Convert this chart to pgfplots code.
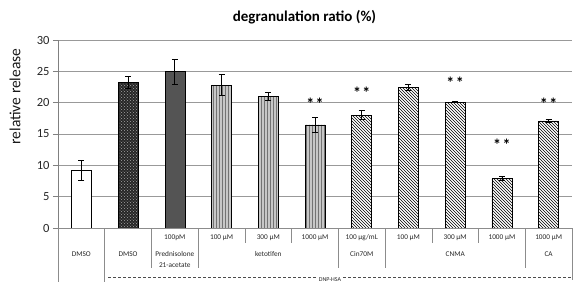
\documentclass[border=0pt]{standalone}
\usepackage{pgfplots}
\pgfplotsset{compat=1.18}
\usepackage{fontspec}
\setmainfont{Carlito}
\usetikzlibrary{patterns}
\pgfplotsset{
  eb/.style={error bars/.cd, y dir=both, y explicit,
    error bar style={black, line width=0.8pt},
    error mark options={rotate=90, mark size=3pt, black, line width=0.8pt}},
  mybar/.style={ybar, bar width=20pt, bar shift=0pt, draw=black, line width=0.6pt},
}
\begin{document}
\begin{tikzpicture}
\begin{axis}[
 at={(0,0)}, anchor=south west,
 scale only axis, width=514pt, height=188pt,
 xmin=-0.5, xmax=10.5, ymin=0, ymax=30,
 xtick=\empty, ytick={0,5,...,30},
 ymajorgrids, grid style={black!40, line width=0.6pt},
 axis x line*=bottom, axis y line*=left, axis line style={black!50,-},
 ytick pos=left, tick align=outside, major tick length=5pt, tick style={black!50, line width=0.6pt},
 yticklabel style={font=\fontsize{12.5}{12.5}\selectfont, text=black!85},
 /pgf/number format/assume math mode=true,
 clip=false,
]
\addplot[mybar, fill=white, eb] coordinates {(0,9.25) +- (0,1.6)};
\addplot[mybar, fill=black!85, postaction={pattern=crosshatch dots, pattern color=black!35}, eb] coordinates {(1,23.2) +- (0,0.95)};
\addplot[mybar, fill=black!67, eb] coordinates {(2,24.95) +- (0,2.0)};
\addplot[mybar, fill=black!22, postaction={pattern=vertical lines, pattern color=black!55}, eb] coordinates {
 (3,22.8) +- (0,1.65)
 (4,20.95) +- (0,0.65)
 (5,16.45) +- (0,1.2)};
\addplot[mybar, fill=white, postaction={pattern=north west lines, pattern color=black}, eb] coordinates {
 (6,18.0) +- (0,0.7)
 (7,22.45) +- (0,0.45)
 (8,20.1) +- (0,0.1)
 (9,7.9) +- (0,0.3)
 (10,17.1) +- (0,0.2)};
\addplot[draw=none, mark=none, nodes near coords={\textbf{*\hspace{1.5pt}*}},
  every node near coord/.append style={anchor=center, font=\fontsize{16}{16}\selectfont}]
  coordinates {(5,19.9) (6,21.5) (8,23.1) (9,13.3) (10,19.9)};
\end{axis}
\begin{scope}[x=1pt,y=1pt]
\draw[black!45, line width=0.6pt]
  (0,0) -- (0,-54) (46.73,0) -- (46.73,-54)
  (93.45,0) -- (93.45,-40) (140.18,0) -- (140.18,-40)
  (280.36,0) -- (280.36,-40) (327.09,0) -- (327.09,-40) (467.27,0) -- (467.27,-40)
  (186.91,0) -- (186.91,-15) (233.64,0) -- (233.64,-15)
  (373.82,0) -- (373.82,-15) (420.55,0) -- (420.55,-15)
  (514,0) -- (514,-52) (0,0) -- (514,0);
\draw[black!70, line width=0.6pt, dash pattern=on 3pt off 2pt] (50,-49.7) -- (514,-49.7);
\begin{scope}[every node/.style={font=\fontsize{7.3}{8}\selectfont, text=black!85, inner sep=0pt}]
\node at (116.82,-10) {100pM};
\node at (163.55,-10) {100 µM};
\node at (210.27,-10) {300 µM};
\node at (257.0,-10) {1000 µM};
\node at (303.73,-10) {100 µg/mL};
\node at (350.45,-10) {100 µM};
\node at (397.18,-10) {300 µM};
\node at (443.91,-10) {1000 µM};
\node at (490.64,-10) {1000 µM};
\node at (23.36,-26) {DMSO};
\node at (70.09,-26) {DMSO};
\node at (116.82,-26) {Prednisolone};
\node at (116.82,-37) {21-acetate};
\node at (210.27,-26) {ketotifen};
\node at (303.73,-26) {Cin70M};
\node at (397.18,-26) {CNMA};
\node at (490.64,-26) {CA};
\node[anchor=south, fill=white, inner xsep=2pt, inner ysep=0.3pt, font=\fontsize{6}{6}\selectfont] at (272,-54) {DNP-HSA};
\end{scope}
\node[font=\bfseries\fontsize{15}{15}\selectfont] at (246.5,211) {degranulation ratio (\%)};
\node[rotate=90, font=\fontsize{15.5}{15.5}\selectfont, text=black!90] at (-43,131.5) {relative release};
\end{scope}
\pgfresetboundingbox
\path[use as bounding box] (-58pt,-54pt) rectangle (522pt,228pt);
\end{tikzpicture}
\end{document}
